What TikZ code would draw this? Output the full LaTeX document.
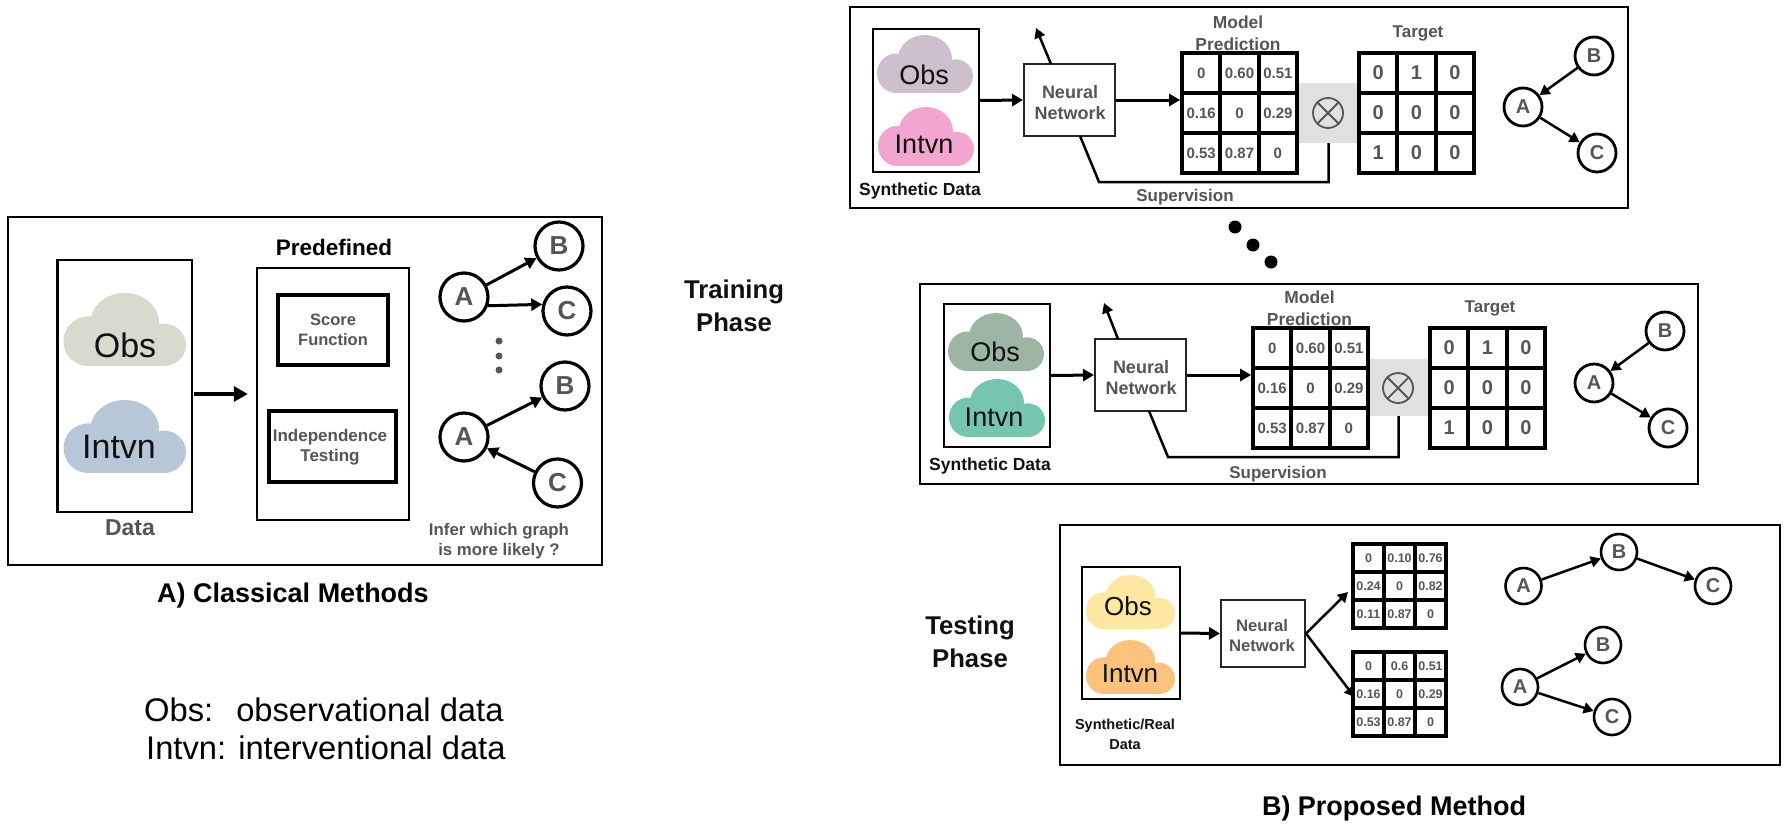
\documentclass[tikz,border=0pt]{standalone}
\usepackage{fontspec}
\setmainfont{Liberation Sans}
\usetikzlibrary{arrows.meta,fit}
\definecolor{labelgray}{HTML}{555555}
\definecolor{inkblack}{HTML}{111111}
\definecolor{cloudA}{HTML}{D9DACE}
\definecolor{cloudB}{HTML}{B8C7D8}
\definecolor{cloudC}{HTML}{CDBFCB}
\definecolor{cloudD}{HTML}{F2A5CE}
\definecolor{cloudE}{HTML}{9DB5A3}
\definecolor{cloudF}{HTML}{75C5B0}
\definecolor{cloudG}{HTML}{FDE7A2}
\definecolor{cloudH}{HTML}{FBC27E}
\newcommand{\fs}[2]{\fontsize{#1}{#2}\selectfont}
% Cloud built from three overlapping lobes, fitted to a pixel box
\newcommand{\cloudfill}[5]{%
  \pgfmathsetmacro{\cw}{#3-#1}\pgfmathsetmacro{\ch}{#4-#2}%
  \begin{scope}[shift={(#1,#2)},x=\cw pt,y={(0pt,-\ch pt)}]
    \fill[#5] (.2,.66) ellipse [x radius=.2,y radius=.34];
    \fill[#5] (.5,.40) ellipse [x radius=.28,y radius=.40];
    \fill[#5] (.82,.71) ellipse [x radius=.18,y radius=.29];
    \fill[#5] (.2,.6) rectangle (.82,1);
  \end{scope}}
% 3x3 grid of value cells: name, x0, y0, x1, y1, cell style, nine values
\newcommand{\cellmat}[7]{%
  \pgfmathsetmacro{\mw}{(#4-#2)/3}\pgfmathsetmacro{\mh}{(#5-#3)/3}%
  \foreach \v [count=\k from 0] in {#7}{%
    \pgfmathtruncatemacro{\cc}{mod(\k,3)}\pgfmathtruncatemacro{\rr}{div(\k,3)}%
    \pgfmathsetmacro{\px}{#2+(\cc+.5)*\mw}\pgfmathsetmacro{\py}{#3+(\rr+.5)*\mh}%
    \pgfmathtruncatemacro{\rn}{\rr+1}\pgfmathtruncatemacro{\cn}{\cc+1}%
    \node[cellbox,#6,minimum width=\mw pt,minimum height=\mh pt] (#1-\rn-\cn) at (\px,\py) {\v};
  }}
\tikzset{
  panel/.style={draw=black,line width=2.2pt,inner sep=0pt,rectangle},
  databox/.style={draw=black,line width=2.4pt,inner sep=0pt,rectangle},
  heavybox/.style={draw=black,line width=3.8pt,inner sep=0pt,rectangle},
  netbox/.style={draw=black!85,line width=2pt,inner sep=0pt,rectangle},
  cellbox/.style={draw=black,line width=3.8pt,inner sep=0pt,rectangle,text=labelgray,font=\bfseries\fs{15}{16}},
  bigcell/.style={font=\bfseries\fs{20}{21}},
  tinycell/.style={font=\bfseries\fs{12.5}{14},line width=3.2pt},
  vertexA/.style={circle,draw=black,line width=3.2pt,minimum size=48pt,inner sep=0pt,text=labelgray,font=\bfseries\fs{26}{25}},
  vertexB/.style={circle,draw=black,line width=2.8pt,minimum size=38pt,inner sep=0pt,text=labelgray,font=\bfseries\fs{20}{20}},
  vertexC/.style={circle,draw=black,line width=2.6pt,minimum size=36pt,inner sep=0pt,text=labelgray,font=\bfseries\fs{20}{20}},
  flow/.style={draw=black,line width=3pt,-{Triangle[length=11pt,width=12pt]}},
  bigflow/.style={draw=black,line width=3.4pt,-{Triangle[length=14pt,width=15pt]}},
  thinflow/.style={draw=black,line width=2.5pt,-{Triangle[length=10pt,width=11pt]}},
  superv/.style={draw=black,line width=2.5pt},
  graylabel/.style={text=labelgray,font=\bfseries\fs{17}{22},align=center,inner sep=0pt},
  blacklabel/.style={text=inkblack,font=\bfseries\fs{17.5}{21},align=center,inner sep=0pt},
  phase/.style={text=inkblack,font=\bfseries\fs{25.7}{33},align=center,inner sep=0pt},
  title/.style={text=black,font=\bfseries\fs{27}{30},inner sep=0pt},
  cloudtext/.style={text=inkblack,inner sep=0pt},
  legend/.style={text=black,font=\fs{32.7}{36},anchor=west,inner sep=0pt},
  greypad/.style={fill=black!12,draw=none,inner sep=0pt,rectangle},
  otimes/.style={circle,draw=labelgray,line width=1.8pt,minimum size=30pt,inner sep=0pt},
  crossing/.style={draw=labelgray,line width=1.8pt},
  dot/.style={circle,fill=black,inner sep=0pt,minimum width=11pt,minimum height=13pt},
  smalldot/.style={circle,fill=labelgray,inner sep=0pt,minimum size=7pt}
}
\begin{document}
\begin{tikzpicture}[x=1pt,y=-1pt]
\useasboundingbox (0,0) rectangle (1791,825);

% ---- Classical methods ----
\node[panel,fit={(8,217)(602,565)}] (panelA) {};
\node[databox,fit={(57.5,260)(192,512)}] (dataA) {};
\cloudfill{63.5}{293}{186}{366}{fill=cloudA}
\cloudfill{63.5}{400}{186}{473}{fill=cloudB}
\node[cloudtext,font=\fs{34}{36}] (obsA) at (125,345) {Obs};
\node[cloudtext,font=\fs{34}{36}] (intA) at (119,447) {Intvn};
\node[graylabel,font=\bfseries\fs{23}{26}] (dataLabelA) at (130,528) {Data};
\node[databox,fit={(257,268)(409,520)}] (predefBox) {};
\node[blacklabel,text=black,font=\bfseries\fs{22.5}{26}] (predefLabel) at (334,247) {Predefined};
\node[heavybox,fit={(278,295)(388,365)}] (scoreBox) {};
\node[graylabel,font=\bfseries\fs{16.5}{20.5}] (scoreText) at (333,330) {Score\\Function};
\node[heavybox,fit={(269,411)(396,482)}] (indepBox) {};
\node[graylabel,font=\bfseries\fs{17}{20.5}] (indepText) at (330,447) {Independence\\Testing};
\draw[bigflow] ([xshift=1pt]dataA.east |- predefBox.west) -- ([xshift=-8pt]predefBox.west);

\node[vertexA] (a1) at (464,297) {A};
\node[vertexA] (b1) at (559,246) {B};
\node[vertexA] (c1) at (567,311) {C};
\node[vertexA] (a2) at (464,437) {A};
\node[vertexA] (b2) at (565,386) {B};
\node[vertexA] (c2) at (557.5,483) {C};
\draw[flow] (a1) -- (b1);
\draw[flow] (a1.-20) -- (c1.165);
\draw[flow] (a2) -- (b2);
\draw[flow] (c2) -- (a2);
\node[smalldot] (vd1) at (499,341) {};
\node[smalldot] (vd2) at (499,356) {};
\node[smalldot] (vd3) at (499,370) {};
\node[graylabel,font=\bfseries\fs{16.8}{20}] (inferText) at (499,541) {Infer which graph\\is more likely ?};
\node[title] (titleA) at (293,596) {A) Classical Methods};

% ---- Abbreviations ----
\node[legend] (legObs) at (144,710) {Obs:\hspace{23pt}observational data};
\node[legend] (legInt) at (146,748) {Intvn: interventional data};

% ---- Phase labels ----
\node[phase] (trainPhase) at (734,306) {Training\\Phase};
\node[phase] (testPhase) at (970,642) {Testing\\Phase};

% ---- Training panel, first task ----
\node[panel,fit={(850,7)(1628,208)}] (panelT1) {};
\node[databox,fit={(873,29)(979,172)}] (dataT1) {};
\cloudfill{877}{35}{973}{93}{fill=cloudC}
\cloudfill{878}{107}{974}{166}{fill=cloudD}
\node[cloudtext,font=\fs{27}{29}] (obsT1) at (924,75) {Obs};
\node[cloudtext,font=\fs{27}{29}] (intT1) at (924,144) {Intvn};
\node[blacklabel] (synT1) at (920,191) {Synthetic Data};
\node[netbox,fit={(1024,64)(1114.5,136)}] (nnT1) {};
\node[graylabel,font=\bfseries\fs{18}{21}] (nnTextT1) at (1070,102.5) {Neural\\Network};
\node[graylabel,font=\bfseries\fs{17.4}{22}] (predLabelT1) at (1238,33) {Model\\Prediction};
\node[greypad,fit={(1299,83)(1358,143)}] (padT1) {};
\cellmat{predT1}{1182}{53}{1297}{173}{}{0,0.60,0.51,0.16,0,0.29,0.53,0.87,0}
\cellmat{targT1}{1359}{53}{1474}{173}{bigcell}{0,1,0,0,0,0,1,0,0}
\node[otimes] (otT1) at (1328,113) {};
\draw[crossing] (otT1.45) -- (otT1.225);
\draw[crossing] (otT1.135) -- (otT1.-45);
\node[graylabel] (targLabelT1) at (1418,33) {Target};
\draw[flow] (dataT1.east) -- (nnT1.west);
\draw[flow] (nnT1.east) -- (nnT1.east -| predT1-2-1.west);
\coordinate (upStartT1) at (1051,64);
\coordinate (upEndT1) at (1036,28);
\draw[thinflow] (upStartT1) -- (upEndT1);
\coordinate (supStartT1) at (1080,136);
\coordinate (supBendT1) at (1099,182);
\draw[superv] (supStartT1) -- (supBendT1) -- (supBendT1 -| padT1.south) -- (padT1.south);
\node[graylabel] (supT1) at (1185,197) {Supervision};
\node[vertexB] (bT1) at (1594,56) {B};
\node[vertexB] (aT1) at (1523,107) {A};
\node[vertexB] (cT1) at (1597,153) {C};
\draw[thinflow] (bT1) -- (aT1);
\draw[thinflow] (aT1) -- (cT1);

% ---- Ellipsis between tasks ----
\node[dot] (gap1) at (1235,227) {};
\node[dot] (gap2) at (1253,245) {};
\node[dot] (gap3) at (1271,262) {};

% ---- Training panel, last task ----
\node[panel,fit={(920,284)(1698,484)}] (panelT2) {};
\node[databox,fit={(944,304)(1050,447)}] (dataT2) {};
\cloudfill{948}{313}{1044}{371}{fill=cloudE}
\cloudfill{949}{379}{1045}{437}{fill=cloudF}
\node[cloudtext,font=\fs{27}{29}] (obsT2) at (995,352) {Obs};
\node[cloudtext,font=\fs{27}{29}] (intT2) at (994,417) {Intvn};
\node[blacklabel] (synT2) at (990,466) {Synthetic Data};
\node[netbox,fit={(1095,339)(1185.5,411)}] (nnT2) {};
\node[graylabel,font=\bfseries\fs{18}{21}] (nnTextT2) at (1141,377.5) {Neural\\Network};
\node[graylabel,font=\bfseries\fs{17.4}{22}] (predLabelT2) at (1309.5,308) {Model\\Prediction};
\node[greypad,fit={(1369,359)(1428,416)}] (padT2) {};
\cellmat{predT2}{1253}{328}{1368}{448}{}{0,0.60,0.51,0.16,0,0.29,0.53,0.87,0}
\cellmat{targT2}{1430}{328}{1545}{448}{bigcell}{0,1,0,0,0,0,1,0,0}
\node[otimes] (otT2) at (1398,388) {};
\draw[crossing] (otT2.45) -- (otT2.225);
\draw[crossing] (otT2.135) -- (otT2.-45);
\node[graylabel] (targLabelT2) at (1490,308) {Target};
\draw[flow] (dataT2.east) -- (nnT2.west);
\draw[flow] (nnT2.east) -- (nnT2.east -| predT2-2-1.west);
\coordinate (upStartT2) at (1118,339);
\coordinate (upEndT2) at (1104,303);
\draw[thinflow] (upStartT2) -- (upEndT2);
\coordinate (supStartT2) at (1149,411);
\coordinate (supBendT2) at (1168,457);
\draw[superv] (supStartT2) -- (supBendT2) -- (supBendT2 -| padT2.south) -- (padT2.south);
\node[graylabel] (supT2) at (1278,474) {Supervision};
\node[vertexB] (bT2) at (1665,331) {B};
\node[vertexB] (aT2) at (1594,383) {A};
\node[vertexB] (cT2) at (1668,428) {C};
\draw[thinflow] (bT2) -- (aT2);
\draw[thinflow] (aT2) -- (cT2);

% ---- Testing panel ----
\node[panel,fit={(1060,525)(1780,765)}] (panelTest) {};
\node[databox,fit={(1082,567)(1180,699)}] (dataTest) {};
\cloudfill{1086}{575}{1175}{629}{fill=cloudG}
\cloudfill{1086}{640}{1175}{694}{fill=cloudH}
\node[cloudtext,font=\fs{26}{28}] (obsTest) at (1128,606) {Obs};
\node[cloudtext,font=\fs{26}{28}] (intTest) at (1130,674) {Intvn};
\node[blacklabel,font=\bfseries\fs{14.5}{20}] (synTest) at (1125,734) {Synthetic/Real\\Data};
\node[netbox,fit={(1221,600)(1305,667)}] (nnTest) {};
\node[graylabel,font=\bfseries\fs{16.7}{20}] (nnTextTest) at (1262,636) {Neural\\Network};
\cellmat{predA}{1353}{544}{1446}{628}{tinycell}{0,0.10,0.76,0.24,0,0.82,0.11,0.87,0}
\cellmat{predB}{1353}{652}{1446}{736}{tinycell}{0,0.6,0.51,0.16,0,0.29,0.53,0.87,0}
\draw[flow] (dataTest.east) -- (nnTest.west);
\coordinate (tipUp) at (1348,592);
\coordinate (tipDown) at (1354.5,697);
\draw[thinflow] (nnTest.east) -- (tipUp);
\draw[thinflow] (nnTest.east) -- (tipDown);
\node[vertexC] (aX) at (1523.5,586) {A};
\node[vertexC] (bX) at (1619,552) {B};
\node[vertexC] (cX) at (1713,586) {C};
\draw[thinflow] (aX) -- (bX);
\draw[thinflow] (bX) -- (cX);
\node[vertexC] (aY) at (1520,687) {A};
\node[vertexC] (bY) at (1603,645) {B};
\node[vertexC] (cY) at (1612,717) {C};
\draw[thinflow] (aY) -- (bY);
\draw[thinflow] (aY) -- (cY);
\node[title] (titleB) at (1394,809) {B) Proposed Method};
\end{tikzpicture}
\end{document}
